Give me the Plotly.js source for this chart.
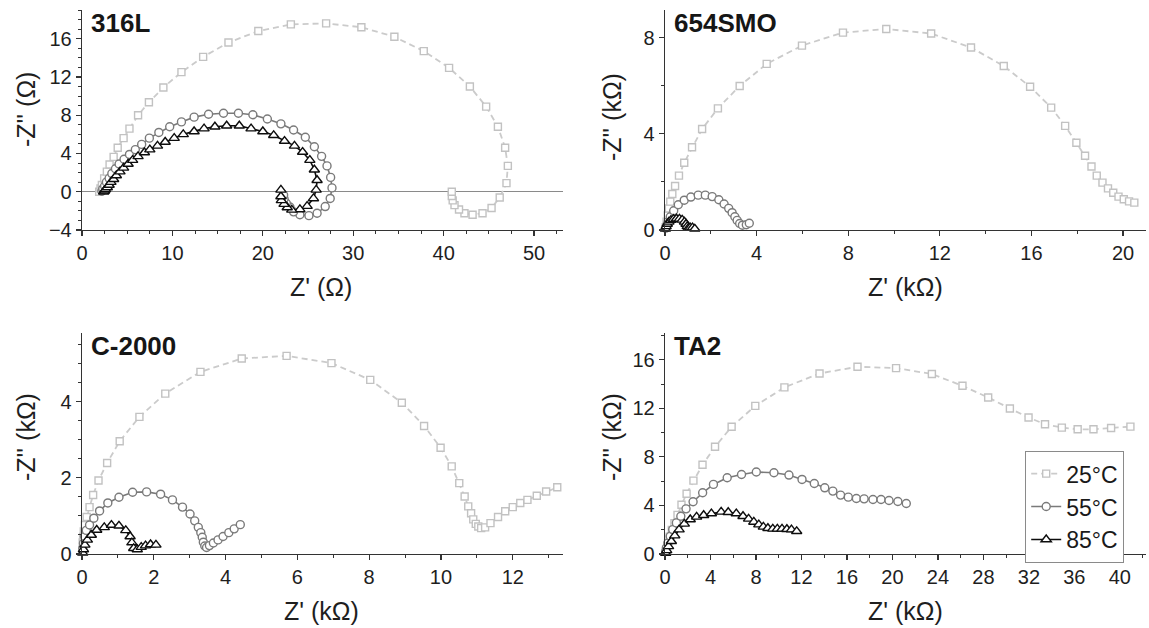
<!DOCTYPE html>
<html>
<head>
<meta charset="utf-8">
<script src="https://cdn.plot.ly/plotly-3.0.1.min.js"></script>
<style>html,body{margin:0;padding:0;background:#fff;}#chart{width:1149px;height:628px;}</style>
</head>
<body>
<div id="chart"></div>
<script>
// ---- Data ----
const seriesNames = ["25°C", "55°C", "85°C"];
const panelLabels = ["316L", "654SMO", "C-2000", "TA2"];
const xTitles = ["Z' (Ω)", "Z' (kΩ)", "Z' (kΩ)", "Z' (kΩ)"];
const yTitles = ["-Z'' (Ω)", "-Z'' (kΩ)", "-Z'' (kΩ)", "-Z'' (kΩ)"];

// 316L (Ω)
const s316_25_x = [1.9,2.05,2.2,2.45,2.75,3.05,3.5,3.95,4.6,5.25,6.2,7.4,9.0,11.0,13.4,16.2,19.5,23.1,27.0,30.9,34.55,37.8,40.6,42.9,44.7,46.0,46.8,47.1,46.95,46.2,45.3,44.3,43.2,42.3,41.7,41.2,41.0,40.9,40.9];
const s316_25_y = [0.0,0.35,0.7,1.4,2.1,2.85,3.65,4.6,5.6,6.6,8.0,9.35,10.9,12.5,14.1,15.6,16.8,17.5,17.6,17.2,16.2,14.7,12.95,11.0,8.9,6.8,4.6,2.7,0.9,-0.6,-1.7,-2.25,-2.4,-2.25,-1.85,-1.4,-0.9,-0.45,0.0];
const s316_55_x = [2.2,2.3,2.5,2.7,3.0,3.3,3.7,4.1,4.65,5.25,5.9,6.6,7.45,8.5,9.7,11.0,12.4,14.0,15.65,17.3,18.9,20.5,22.0,23.4,24.7,25.7,26.5,27.1,27.5,27.65,27.45,26.9,26.0,25.1,24.1,23.4,23.0,22.6,22.35,22.3];
const s316_55_y = [0.05,0.3,0.6,1.0,1.4,1.9,2.4,2.9,3.4,3.9,4.4,4.95,5.6,6.2,6.8,7.3,7.8,8.1,8.2,8.2,8.05,7.6,7.1,6.45,5.7,4.7,3.7,2.7,1.5,0.4,-0.7,-1.55,-2.25,-2.5,-2.4,-2.1,-1.6,-1.2,-0.75,-0.35];
const s316_85_x = [2.4,2.5,2.6,2.8,3.0,3.2,3.5,3.8,4.2,4.6,5.1,5.6,6.2,6.9,7.5,8.35,9.2,10.2,11.2,12.4,13.5,14.7,16.0,17.4,18.7,20.0,21.2,22.4,23.5,24.4,25.2,25.7,26.0,25.9,25.6,24.9,24.1,23.2,22.7,22.35,22.05,22.0,22.0];
const s316_85_y = [0.0,0.1,0.25,0.45,0.7,1.0,1.3,1.7,2.1,2.5,2.9,3.3,3.7,4.1,4.4,4.8,5.2,5.6,6.0,6.3,6.6,6.8,6.9,6.9,6.6,6.3,5.9,5.3,4.8,4.15,3.3,2.3,1.2,0.2,-0.7,-1.5,-1.85,-1.9,-1.65,-1.3,-0.9,-0.5,0.2];

// 654SMO (kΩ)
const s654_25_x = [0.03,0.07,0.12,0.17,0.23,0.32,0.44,0.61,0.84,1.18,1.62,2.31,3.26,4.44,5.98,7.77,9.66,11.62,13.36,14.79,15.94,16.86,17.47,17.96,18.34,18.62,18.85,19.1,19.34,19.57,19.8,20.03,20.26,20.49];
const s654_25_y = [0.12,0.35,0.6,0.9,1.18,1.5,1.83,2.26,2.8,3.44,4.2,5.06,5.99,6.91,7.67,8.21,8.36,8.17,7.59,6.82,5.96,5.09,4.33,3.63,3.09,2.64,2.26,1.97,1.73,1.55,1.39,1.28,1.19,1.14];
const s654_55_x = [0.03,0.08,0.14,0.23,0.38,0.58,0.84,1.13,1.45,1.76,2.06,2.35,2.58,2.78,2.93,3.05,3.15,3.26,3.38,3.55,3.68];
const s654_55_y = [0.08,0.2,0.35,0.55,0.8,1.05,1.24,1.37,1.45,1.45,1.39,1.26,1.08,0.9,0.72,0.55,0.4,0.27,0.2,0.22,0.28];
const s654_85_x = [0.02,0.05,0.1,0.17,0.26,0.37,0.5,0.63,0.75,0.85,0.92,0.97,1.02,1.1,1.2,1.3];
const s654_85_y = [0.05,0.15,0.25,0.34,0.41,0.45,0.47,0.46,0.42,0.34,0.25,0.15,0.08,0.1,0.1,0.05];

// C-2000 (kΩ)
const sC_25_x = [0.02,0.03,0.05,0.08,0.13,0.21,0.31,0.46,0.70,1.05,1.60,2.32,3.30,4.45,5.70,6.95,8.03,8.91,9.53,9.99,10.30,10.51,10.66,10.76,10.84,10.90,10.97,11.04,11.12,11.23,11.38,11.59,11.79,12.0,12.21,12.41,12.67,12.93,13.24];
const sC_25_y = [0.3,0.45,0.59,0.76,0.97,1.23,1.55,1.93,2.39,2.96,3.60,4.21,4.78,5.13,5.20,5.01,4.57,3.97,3.36,2.79,2.30,1.86,1.51,1.25,1.07,0.91,0.79,0.72,0.68,0.70,0.81,0.97,1.12,1.23,1.34,1.42,1.53,1.64,1.75];
const sC_55_x = [0.02,0.04,0.07,0.12,0.21,0.33,0.49,0.72,1.03,1.41,1.80,2.19,2.52,2.80,3.01,3.14,3.24,3.31,3.35,3.38,3.42,3.47,3.55,3.66,3.79,3.93,4.09,4.24,4.41];
const sC_55_y = [0.15,0.28,0.46,0.62,0.76,0.94,1.13,1.34,1.49,1.62,1.63,1.57,1.42,1.23,1.05,0.87,0.70,0.56,0.44,0.31,0.21,0.17,0.22,0.29,0.37,0.46,0.56,0.66,0.77];
const sC_85_x = [0.02,0.04,0.08,0.15,0.26,0.41,0.62,0.82,1.03,1.22,1.34,1.39,1.44,1.54,1.65,1.77,1.91,2.06];
const sC_85_y = [0.03,0.12,0.24,0.37,0.50,0.63,0.70,0.76,0.74,0.62,0.46,0.30,0.15,0.12,0.18,0.22,0.25,0.24];

// TA2 (kΩ)
const sTA_25_x = [0.18,0.27,0.41,0.6,0.83,1.1,1.45,1.9,2.5,3.3,4.4,5.86,7.94,10.50,13.59,16.93,20.32,23.47,26.16,28.42,30.33,31.97,33.42,34.90,36.29,37.68,39.23,40.93];
const sTA_25_y = [0.33,0.88,1.43,1.98,2.53,3.22,4.05,4.96,6.04,7.35,8.83,10.48,12.20,13.72,14.87,15.42,15.31,14.82,13.85,12.89,11.98,11.24,10.69,10.41,10.27,10.27,10.38,10.49];
const sTA_55_x = [0.06,0.12,0.25,0.46,0.68,1.0,1.39,1.85,2.47,3.31,4.26,5.47,6.73,8.03,9.58,10.90,12.05,13.13,14.05,14.76,15.44,16.12,16.83,17.51,18.29,19.00,19.70,20.48,21.22];
const sTA_55_y = [0.22,0.50,0.91,1.46,2.01,2.56,3.11,3.72,4.30,5.04,5.73,6.28,6.55,6.75,6.69,6.50,6.14,5.81,5.45,5.18,4.85,4.68,4.57,4.54,4.49,4.49,4.41,4.32,4.16];
const sTA_85_x = [0.06,0.15,0.31,0.56,0.86,1.24,1.70,2.22,2.78,3.40,4.08,4.94,5.56,6.27,6.86,7.35,7.81,8.25,8.65,9.05,9.48,9.88,10.29,10.72,11.12,11.58];
const sTA_85_y = [0.08,0.30,0.63,1.05,1.51,2.01,2.48,2.84,3.06,3.19,3.33,3.47,3.44,3.33,3.11,2.89,2.64,2.42,2.23,2.12,2.07,2.07,2.07,2.04,2.01,1.87];

// ---- Styling ----
const W = 1149, H = 628;
const FONT = "Liberation Sans, Arial, Helvetica, sans-serif";
const styles = [
  {color: "#c2c2c2", lcolor: "#cbcbcb", symbol: "square", size: 7, dash: "6px,4px", lw: 1.8},
  {color: "#7a7a7a", lcolor: "#7a7a7a", symbol: "circle", size: 8, dash: "solid", lw: 1.6},
  {color: "#0d0d0d", lcolor: "#0d0d0d", symbol: "triangle-up", size: 9, dash: "solid", lw: 1.6}
];

const panels = [
  {sets: [[s316_25_x, s316_25_y], [s316_55_x, s316_55_y], [s316_85_x, s316_85_y]], xr: [0, 53.2], yr: [-4, 19], xd: 10, xm: 2.5, yd: 4, ym: 1, zero: true},
  {sets: [[s654_25_x, s654_25_y], [s654_55_x, s654_55_y], [s654_85_x, s654_85_y]], xr: [0, 21.0], yr: [0, 9.15], xd: 4, xm: 2, yd: 4, ym: 2, zero: false},
  {sets: [[sC_25_x, sC_25_y], [sC_55_x, sC_55_y], [sC_85_x, sC_85_y]], xr: [0, 13.4], yr: [0, 5.8], xd: 2, xm: 1, yd: 2, ym: 0.5, zero: false},
  {sets: [[sTA_25_x, sTA_25_y], [sTA_55_x, sTA_55_y], [sTA_85_x, sTA_85_y]], xr: [0, 42.3], yr: [0, 18.2], xd: 4, xm: 2, yd: 4, ym: 2, zero: false}
];

// pixel boxes [left, right, top, bottom]
const boxes = [
  [82, 563, 10, 230],
  [665, 1146, 10, 230],
  [82, 563, 333, 554],
  [665, 1146, 333, 554]
];
const xTitlePos = [[321, 287], [905, 287], [321, 611], [905, 611]];
const yTitlePos = [[26, 110], [612, 117], [26, 437], [612, 437]];

const traces = [];
const layout = {
  width: W, height: H,
  margin: {l: 0, r: 0, t: 0, b: 0},
  paper_bgcolor: "#fff", plot_bgcolor: "#fff",
  font: {family: FONT, color: "#222"},
  showlegend: true,
  legend: {
    x: 1025 / W, y: 1 - 451 / H, xanchor: "left", yanchor: "top",
    bordercolor: "#8a8a8a", borderwidth: 1.2, bgcolor: "#fff",
    font: {family: FONT, size: 23, color: "#1a1a1a"},
    tracegroupgap: 0, itemwidth: 30
  },
  annotations: []
};

panels.forEach((p, i) => {
  const n = i === 0 ? "" : String(i + 1);
  const xa = "x" + n, ya = "y" + n;
  const b = boxes[i];
  p.sets.forEach((s, k) => {
    const st = styles[k];
    traces.push({
      type: "scatter", mode: "lines+markers",
      x: s[0], y: s[1], xaxis: xa, yaxis: ya,
      name: seriesNames[k], showlegend: i === 3,
      line: {color: st.lcolor, width: st.lw, dash: st.dash},
      marker: {symbol: st.symbol, size: st.size, color: "#fff", line: {color: st.color, width: 1.4}},
      cliponaxis: false
    });
  });
  const axBase = {
    showline: true, linecolor: "#333", linewidth: 1.3,
    ticks: "outside", ticklen: 5, tickwidth: 1.2, tickcolor: "#333",
    showgrid: false, zeroline: false,
    tickfont: {family: FONT, size: 20, color: "#1e1e1e"},
    fixedrange: true
  };
  layout["xaxis" + n] = Object.assign({}, axBase, {
    domain: [b[0] / W, b[1] / W], anchor: ya, range: p.xr,
    dtick: p.xd, tick0: 0,
    minor: {ticks: "outside", ticklen: 3, tickwidth: 1, tickcolor: "#333", dtick: p.xm, tick0: 0, showgrid: false}
  });
  layout["yaxis" + n] = Object.assign({}, axBase, {
    domain: [1 - b[3] / H, 1 - b[2] / H], anchor: xa, range: p.yr,
    dtick: p.yd, tick0: 0,
    zeroline: p.zero, zerolinecolor: "#8a8a8a", zerolinewidth: 1.5,
    minor: {ticks: "outside", ticklen: 3, tickwidth: 1, tickcolor: "#333", dtick: p.ym, tick0: 0, showgrid: false}
  });
  layout.annotations.push({
    xref: "paper", yref: "paper", x: (b[0] + 7) / W, y: 1 - (b[2] + 13) / H,
    xanchor: "left", yanchor: "middle", showarrow: false,
    text: panelLabels[i], font: {family: FONT, size: 26, weight: "bold", color: "#161616"}
  });
  layout.annotations.push({
    xref: "paper", yref: "paper", x: xTitlePos[i][0] / W, y: 1 - xTitlePos[i][1] / H,
    xanchor: "center", yanchor: "middle", showarrow: false,
    text: xTitles[i], font: {family: FONT, size: 25, color: "#1e1e1e"}
  });
  layout.annotations.push({
    xref: "paper", yref: "paper", x: yTitlePos[i][0] / W, y: 1 - yTitlePos[i][1] / H,
    xanchor: "center", yanchor: "middle", showarrow: false, textangle: -90,
    text: yTitles[i], font: {family: FONT, size: 25, color: "#1e1e1e"}
  });
});

Plotly.newPlot("chart", traces, layout, {staticPlot: true, displayModeBar: false});
</script>
</body>
</html>
